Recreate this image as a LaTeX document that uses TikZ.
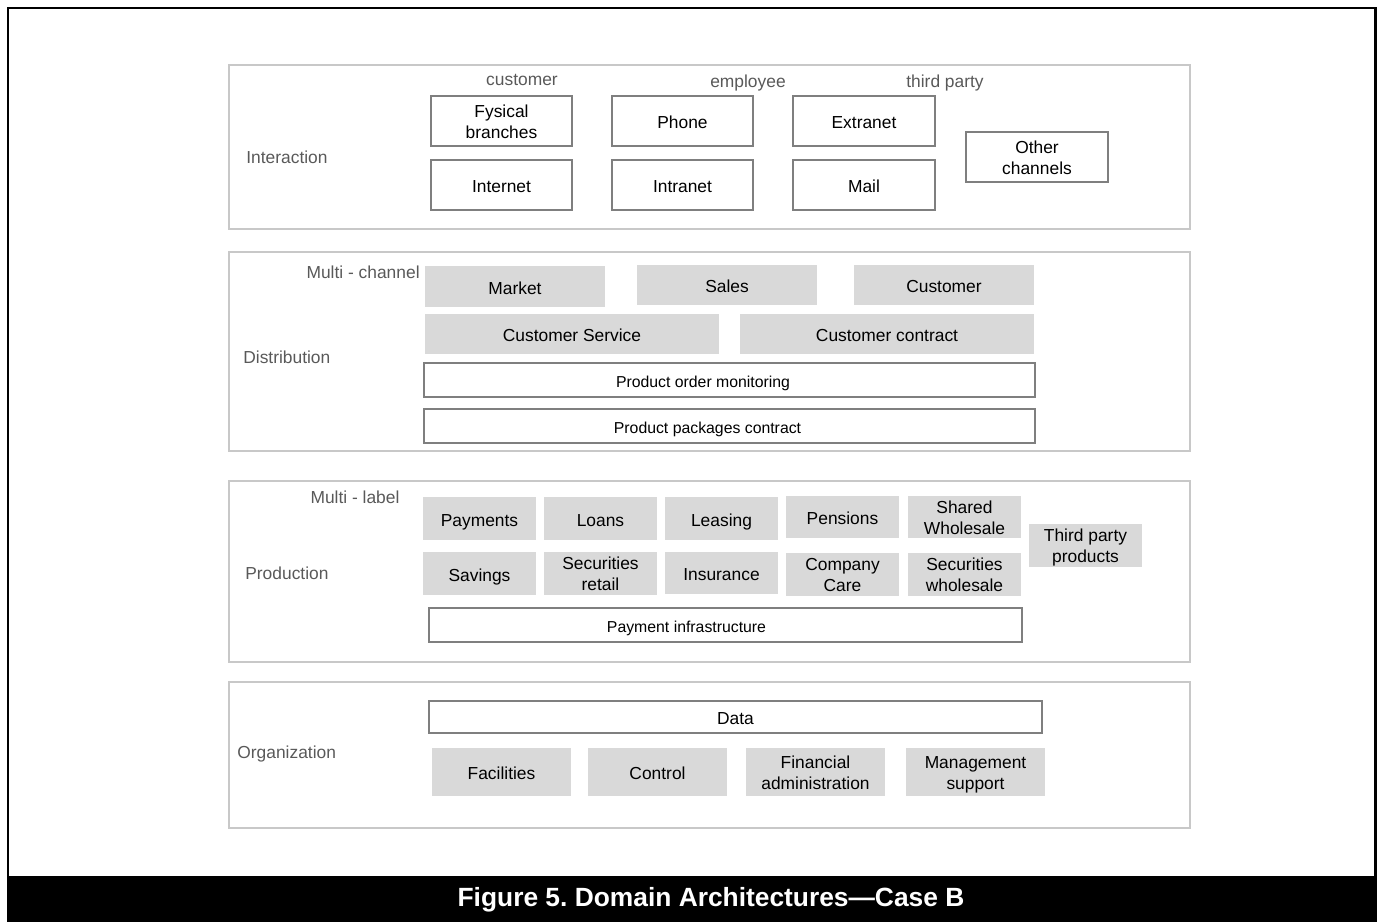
\documentclass[tikz,border=0pt]{standalone}
\usepackage{fontspec}
\setmainfont{Liberation Sans}
\usepackage{tikz}
\usetikzlibrary{fit}
\definecolor{LayerLine}{HTML}{C8C8C8}
\definecolor{BoxLine}{HTML}{7F7F7F}
\definecolor{FuncFill}{HTML}{D9D9D9}
\definecolor{LabelGrey}{HTML}{595959}
\frenchspacing

\begin{document}
\begin{tikzpicture}[x=0.02cm, y=-0.02cm,
		every node/.style={font=\fontsize{9.9}{11.9}\selectfont, inner sep=0pt, align=center},
		every label/.style={execute at begin node=\strut, execute at end node=\strut, yshift=-0.075cm},
		layer/.style={draw=LayerLine, line width=0.8pt},
		chan/.style={draw=BoxLine, fill=white, line width=0.6pt},
		func/.style={fill=FuncFill},
		bar/.style={draw=BoxLine, fill=white, line width=0.6pt},
		barlbl/.style={font=\fontsize{9}{11}\selectfont},
		tag/.style={text=LabelGrey}]
		\useasboundingbox (0,0) rectangle (1382,922);
		% outer frame and caption band
		\draw[line width=1.7pt] (8,876) -- (8,8) -- (1375.5,8) -- (1375.5,876);
		\fill (7,876) rectangle (1377,922);
		\node[text=white, font=\fontsize{15}{16}\selectfont\bfseries] (cap) at (711,900) {Figure 5. Domain Architectures---Case B};
		% layers
		\node[layer, fit={(229,65) (1190,229)}] (inter) {};
		\node[layer, fit={(229,252) (1190,451)}] (distr) {};
		\node[layer, fit={(229,481) (1190,662)}] (prod) {};
		\node[layer, fit={(229,682) (1190,828)}] (org) {};
		\node[tag, anchor=west] (interlbl) at (246,157) {Interaction};
		\node[tag, anchor=west] (distrlbl) at (243,357) {Distribution};
		\node[tag, anchor=west] (prodlbl) at (245,573) {Production};
		\node[tag, anchor=west] (orglbl) at (237,754) {Organization};
		% interaction
		\node[tag] (custlbl) at (522,80) {customer};
		\node[tag] (emplbl) at (748,83) {employee};
		\node[tag] (thirdlbl) at (945,83) {third party};
		\node[chan, fit={(431,96) (572,146)}, label=center:{Fysical\\branches}] (fysical) {};
		\node[chan, fit={(612,96) (753,146)}, label=center:Phone] (phone) {};
		\node[chan, fit={(793,96) (935,146)}, label=center:Extranet] (extranet) {};
		\node[chan, fit={(431,160) (572,210)}, label=center:Internet] (internet) {};
		\node[chan, fit={(612,160) (753,210)}, label=center:Intranet] (intranet) {};
		\node[chan, fit={(793,160) (935,210)}, label=center:Mail] (mail) {};
		\node[chan, fit={(966,132) (1108,182)}, label=center:{Other\\channels}] (other) {};
		% distribution
		\node[tag, anchor=east] (multich) at (420,272) {Multi - channel};
		\node[func, fit={(425,266) (605,307)}, label=center:Market] (market) {};
		\node[func, fit={(637,265) (817,305)}, label=center:Sales] (sales) {};
		\node[func, fit={(854,265) (1034,305)}, label=center:Customer] (customer) {};
		\node[func, fit={(425,314) (719,354)}, label=center:Customer Service] (custserv) {};
		\node[func, fit={(740,314) (1034,354)}, label=center:Customer contract] (custcontr) {};
		\node[bar, fit={(424,363) (1035,397)}, label={[barlbl, xshift=-0.53cm]center:Product order monitoring}] (ordermon) {};
		\node[bar, fit={(424,409) (1035,443)}, label={[barlbl, xshift=-0.44cm]center:Product packages contract}] (packages) {};
		% production
		\node[tag] (multilbl) at (355,497) {Multi - label};
		\node[func, fit={(423,497) (536,540)}, label=center:Payments] (payments) {};
		\node[func, fit={(544,497) (657,540)}, label=center:Loans] (loans) {};
		\node[func, fit={(665,497) (778,540)}, label=center:Leasing] (leasing) {};
		\node[func, fit={(786,496) (899,538)}, label=center:Pensions] (pensions) {};
		\node[func, fit={(908,496) (1021,538)}, label=center:{Shared\\Wholesale}] (sharedws) {};
		\node[func, fit={(1029,524) (1142,567)}, label=center:{Third party\\products}] (thirdprod) {};
		\node[func, fit={(423,552) (536,595)}, label=center:Savings] (savings) {};
		\node[func, fit={(544,552) (657,595)}, label=center:{Securities\\retail}] (secretail) {};
		\node[func, fit={(665,552) (778,594)}, label=center:Insurance] (insurance) {};
		\node[func, fit={(786,553) (899,596)}, label=center:{Company\\Care}] (compcare) {};
		\node[func, fit={(908,553) (1021,596)}, label=center:{Securities\\wholesale}] (secws) {};
		\node[bar, fit={(429,608) (1022,642)}, label={[barlbl, xshift=-0.78cm]center:Payment infrastructure}] (payinfra) {};
		% organization
		\node[chan, fit={(429,701) (1042,733)}, label=center:Data] (data) {};
		\node[func, fit={(432,748) (571,796)}, label=center:Facilities] (facilities) {};
		\node[func, fit={(588,748) (727,796)}, label=center:Control] (control) {};
		\node[func, fit={(746,748) (885,796)}, label=center:{Financial\\administration}] (finadmin) {};
		\node[func, fit={(906,748) (1045,796)}, label=center:{Management\\support}] (mgmt) {};
	\end{tikzpicture}
\end{document}
